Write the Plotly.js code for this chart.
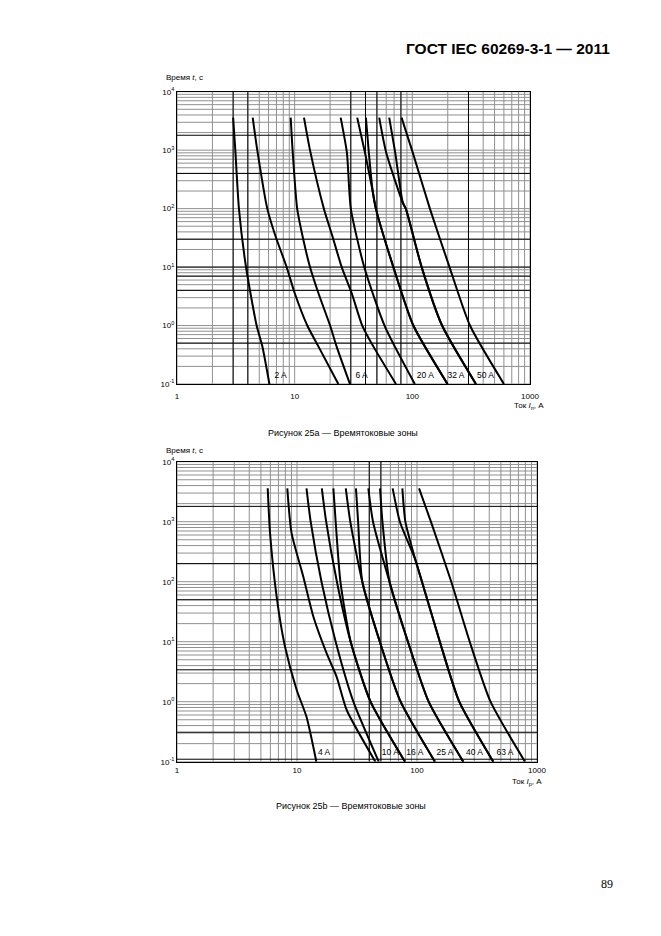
<!DOCTYPE html>
<html><head><meta charset="utf-8">
<script src="https://cdn.plot.ly/plotly-3.0.1.min.js"></script>
<style>html,body{margin:0;padding:0;background:#fff;}#chart{width:661px;height:936px;}</style>
</head><body><div id="chart"></div>
<script>
// ===== Figure 25a: current (A) / time (s) points per curve =====
const a2min_I  = [3.0, 3.13, 3.36, 3.86, 4.75, 5.3, 6.1];
const a2min_t  = [3600, 1000, 100, 10, 1, 0.45, 0.1];
const a2max_I  = [4.4, 4.81, 5.85, 6.9, 8.55, 10, 12.8, 15.9, 23.5];
const a2max_t  = [3600, 1000, 100, 33, 10, 3.6, 1, 0.44, 0.1];
const a6min_I  = [9.25, 9.6, 10.5, 11.7, 13.5, 15.9, 20, 22.7, 29.5];
const a6min_t  = [3600, 1000, 100, 33, 10, 3.6, 1, 0.44, 0.1];
const a6max_I  = [12.0, 13.5, 17.7, 21, 25.1, 30.5, 37.5, 46.6, 72.6];
const a6max_t  = [3600, 1000, 100, 33, 10, 3.6, 1, 0.44, 0.1];
const a20min_I = [24.6, 27.8, 30, 39, 58, 105];
const a20min_t = [3600, 900, 100, 10, 1, 0.1];
const a20max_I = [34, 39.6, 46, 49, 69, 102, 199];
const a20max_t = [3600, 900, 200, 100, 10, 1, 0.1];
const a32min_I = [40.3, 42.7, 46, 49, 69, 102, 199];
const a32min_t = [3600, 900, 200, 100, 10, 1, 0.1];
const a32max_I = [52.3, 60, 83, 88, 120, 179, 347];
const a32max_t = [3600, 900, 126, 100, 10, 1, 0.1];
const a50min_I = [63.6, 71.6, 83, 88, 120, 179, 347];
const a50min_t = [3600, 900, 126, 100, 10, 1, 0.1];
const a50max_I = [81, 101, 141, 207, 309, 600];
const a50max_t = [3600, 900, 100, 10, 1, 0.1];
const labelsA      = ['2 A', '6 A', '20 A', '32 A', '50 A'];
const labelsA_I    = [7.6, 37, 129, 235, 418];
const labelsA_t    = [0.138, 0.138, 0.138, 0.138, 0.138];

// ===== Figure 25b =====
const b4min_I  = [5.7, 5.96, 6.77, 7.94, 9.94, 12.0, 14.5];
const b4min_t  = [3600, 650, 56, 8.3, 1.57, 0.56, 0.1];
const b4max_I  = [8.3, 9.0, 11.3, 13.7, 17.7, 21.4, 26, 45];
const b4max_t  = [3600, 650, 120, 26, 6.3, 2.6, 0.72, 0.1];
const b10min_I = [12.0, 13.0, 16, 21, 29.5, 48];
const b10min_t = [3600, 1000, 100, 10, 1, 0.1];
const b10max_I = [16.1, 17.5, 21.5, 28, 41, 79.4];
const b10max_t = [3600, 1000, 100, 10, 1, 0.1];
const b16min_I = [20.1, 21, 23, 28, 41, 79.4];
const b16min_t = [3600, 1000, 100, 10, 1, 0.1];
const b16max_I = [25.5, 27.8, 35, 49, 73, 141];
const b16max_t = [3600, 1000, 100, 10, 1, 0.1];
const b25min_I = [31, 32.3, 35, 49, 73, 141];
const b25min_t = [3600, 1000, 100, 10, 1, 0.1];
const b25max_I = [39.3, 43, 59, 84, 125, 243];
const b25max_t = [3600, 1000, 100, 10, 1, 0.1];
const b40min_I = [49.2, 51.5, 59, 84, 125, 243];
const b40min_t = [3600, 1000, 100, 10, 1, 0.1];
const b40max_I = [62.7, 72, 97, 110, 155, 225, 432];
const b40max_t = [3600, 1000, 230, 100, 10, 1, 0.1];
const b63min_I = [75.5, 80, 97, 110, 155, 225, 432];
const b63min_t = [3600, 1000, 230, 100, 10, 1, 0.1];
const b63max_I = [104, 133, 193, 275, 410, 794];
const b63max_t = [3600, 900, 100, 10, 1, 0.1];
const labelsB      = ['4 A', '10 A', '16 A', '25 A', '40 A', '63 A'];
const labelsB_I    = [16.8, 60, 96, 171, 301, 541];
const labelsB_t    = [0.138, 0.138, 0.138, 0.138, 0.138, 0.138];

// ===== axis ticks =====
const xTickVals = [1, 10, 100, 1000];
const xTickText = ['1', '10', '100', '1000'];
const yTickVals = [0.1, 1, 10, 100, 1000, 10000];
const yTickText = ['10<sup>-1</sup>', '10<sup>0</sup>', '10<sup>1</sup>', '10<sup>2</sup>', '10<sup>3</sup>', '10<sup>4</sup>'];

// emphasised (black) grid lines
const blackVA = [3, 4, 30, 40, 50, 80, 300];
const blackHA = [1800, 400, 30, 10, 7, 4, 0.5];
const blackVB = [40, 50];
const blackHB = [1800, 200, 50, 3.4, 0.31, 0.11];

// ---------------------------------------------
const W = 661, H = 936;
const px = x => x / W, py = y => 1 - y / H;
const FONT = 'Liberation Sans, Arial, sans-serif';

function logGrid(lo, hi) {
  const v = [];
  for (let e = lo; e < hi; e++) for (let k = 1; k <= 9; k++) v.push(k * Math.pow(10, e));
  v.push(Math.pow(10, hi));
  return v;
}
function vLines(vals, y0, y1) {
  const x = [], y = [];
  vals.forEach(v => { x.push(v, v, null); y.push(y0, y1, null); });
  return {x, y};
}
function hLines(vals, x0, x1) {
  const x = [], y = [];
  vals.forEach(v => { x.push(x0, x1, null); y.push(v, v, null); });
  return {x, y};
}
const traces = [];
function gridTraces(xa, ya, bv, bh) {
  const gv = vLines(logGrid(0, 3), 0.1, 10000);
  const gh = hLines(logGrid(-1, 4), 1, 1000);
  traces.push({x: gv.x, y: gv.y, xaxis: xa, yaxis: ya, mode: 'lines', line: {color: '#909090', width: 1}, hoverinfo: 'skip', showlegend: false});
  traces.push({x: gh.x, y: gh.y, xaxis: xa, yaxis: ya, mode: 'lines', line: {color: '#909090', width: 1}, hoverinfo: 'skip', showlegend: false});
  const kv = vLines(bv, 0.1, 10000), kh = hLines(bh, 1, 1000);
  traces.push({x: kv.x, y: kv.y, xaxis: xa, yaxis: ya, mode: 'lines', line: {color: '#000', width: 1}, hoverinfo: 'skip', showlegend: false});
  traces.push({x: kh.x, y: kh.y, xaxis: xa, yaxis: ya, mode: 'lines', line: {color: '#000', width: 1}, hoverinfo: 'skip', showlegend: false});
}
function curve(I, t, xa, ya) {
  traces.push({x: I, y: t, xaxis: xa, yaxis: ya, mode: 'lines',
    line: {color: '#000', width: 2, shape: 'spline', smoothing: 0.6}, hoverinfo: 'skip', showlegend: false});
}
function labels(txt, I, t, xa, ya) {
  traces.push({x: I, y: t, text: txt, xaxis: xa, yaxis: ya, mode: 'text',
    textfont: {family: FONT, size: 8.5, color: '#000'}, hoverinfo: 'skip', showlegend: false, cliponaxis: false});
}

gridTraces('x', 'y', blackVA, blackHA);
[[a2min_I, a2min_t], [a2max_I, a2max_t], [a6min_I, a6min_t], [a6max_I, a6max_t],
 [a20min_I, a20min_t], [a20max_I, a20max_t], [a32min_I, a32min_t], [a32max_I, a32max_t],
 [a50min_I, a50min_t], [a50max_I, a50max_t]].forEach(c => curve(c[0], c[1], 'x', 'y'));
labels(labelsA, labelsA_I, labelsA_t, 'x', 'y');

gridTraces('x2', 'y2', blackVB, blackHB);
[[b4min_I, b4min_t], [b4max_I, b4max_t], [b10min_I, b10min_t], [b10max_I, b10max_t],
 [b16min_I, b16min_t], [b16max_I, b16max_t], [b25min_I, b25min_t], [b25max_I, b25max_t],
 [b40min_I, b40min_t], [b40max_I, b40max_t], [b63min_I, b63min_t], [b63max_I, b63max_t]].forEach(c => curve(c[0], c[1], 'x2', 'y2'));
labels(labelsB, labelsB_I, labelsB_t, 'x2', 'y2');

function xax(d, anchor, standoff) {
  return {type: 'log', domain: d, range: [0, 3], anchor: anchor, showgrid: false, zeroline: false,
    tickvals: xTickVals, ticktext: xTickText, ticks: '', ticklabelstandoff: standoff, tickfont: {family: FONT, size: 8, color: '#000'},
    showline: true, mirror: true, linecolor: '#000', linewidth: 1, fixedrange: true};
}
function yax(d, anchor) {
  return {type: 'log', domain: d, range: [-1, 4], anchor: anchor, showgrid: false, zeroline: false,
    tickvals: yTickVals, ticktext: yTickText, ticks: '', tickfont: {family: FONT, size: 8, color: '#000'},
    showline: true, mirror: true, linecolor: '#000', linewidth: 1, fixedrange: true};
}

const layout = {
  width: W, height: H, margin: {l: 0, r: 0, t: 0, b: 0},
  paper_bgcolor: '#fff', plot_bgcolor: '#fff', showlegend: false,
  xaxis: xax([px(177), px(530)], 'y', 4),
  yaxis: yax([py(384), py(91.7)], 'x'),
  xaxis2: xax([px(177), px(537)], 'y2', 1),
  yaxis2: yax([py(761.7), py(461.7)], 'x2'),
  annotations: [
    {text: '<b>ГОСТ IEC 60269-3-1 — 2011</b>', x: px(612), y: py(48), xref: 'paper', yref: 'paper', xanchor: 'right', yanchor: 'middle', showarrow: false, font: {family: FONT, size: 15.5, color: '#000'}},
    {text: 'Время <i>t</i>, с', x: px(164), y: py(77), xref: 'paper', yref: 'paper', xanchor: 'left', yanchor: 'middle', showarrow: false, font: {family: FONT, size: 8, color: '#000'}},
    {text: 'Ток <i>I</i><sub>п</sub>, А', x: px(546), y: py(406), xref: 'paper', yref: 'paper', xanchor: 'right', yanchor: 'middle', showarrow: false, font: {family: FONT, size: 8, color: '#000'}},
    {text: 'Рисунок 25a — Времятоковые зоны', x: px(343), y: py(433), xref: 'paper', yref: 'paper', xanchor: 'center', yanchor: 'middle', showarrow: false, font: {family: FONT, size: 9, color: '#000'}},
    {text: 'Время <i>t</i>, с', x: px(164), y: py(450), xref: 'paper', yref: 'paper', xanchor: 'left', yanchor: 'middle', showarrow: false, font: {family: FONT, size: 8, color: '#000'}},
    {text: 'Ток <i>I</i><sub>р</sub>, А', x: px(544), y: py(782), xref: 'paper', yref: 'paper', xanchor: 'right', yanchor: 'middle', showarrow: false, font: {family: FONT, size: 8, color: '#000'}},
    {text: 'Рисунок 25b — Времятоковые зоны', x: px(351), y: py(806), xref: 'paper', yref: 'paper', xanchor: 'center', yanchor: 'middle', showarrow: false, font: {family: FONT, size: 9, color: '#000'}},
    {text: '89', x: px(607), y: py(884), xref: 'paper', yref: 'paper', xanchor: 'center', yanchor: 'middle', showarrow: false, font: {family: 'Liberation Serif, Times New Roman, serif', size: 12, color: '#000'}}
  ]
};
Plotly.newPlot('chart', traces, layout, {staticPlot: true, displayModeBar: false});
</script>
</body></html>
